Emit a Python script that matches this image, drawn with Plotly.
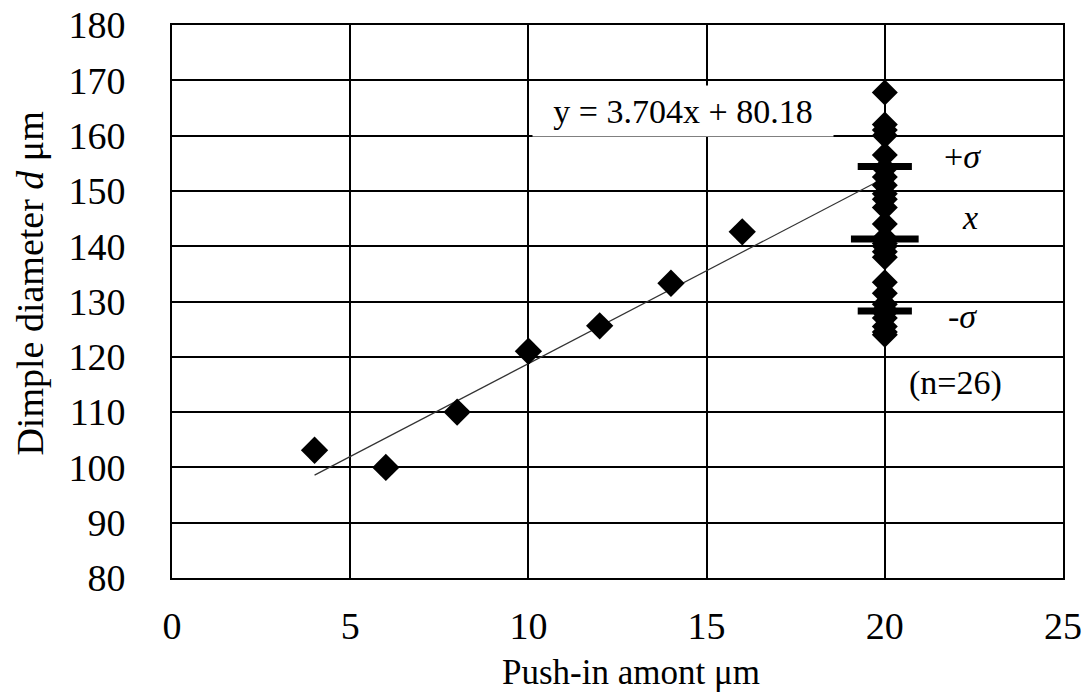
import plotly.graph_objects as go

# Data
push_in = [4, 6, 8, 10, 12, 14, 16]
diameter = [103.1, 100.0, 110.0, 121.0, 125.6, 133.3, 142.6]

cluster_x_value = 20
cluster_d = [167.8, 162, 161, 160, 156.5, 154, 152.5, 151, 149.5, 148.5, 147, 144,
             141.5, 140.5, 140, 139, 138, 133.5, 131.5, 129.5, 128.5, 128, 127,
             125.5, 124.5, 124]

mean_d = 141.3
plus_sigma = 154.4
minus_sigma = 128.3

trend_x = [4.0, 19.8]
trend_y = [98.6, 151.7]

x_ticks = [0, 5, 10, 15, 20, 25]
y_ticks = [80, 90, 100, 110, 120, 130, 140, 150, 160, 170, 180]

FONT = "Liberation Serif"

fig = go.Figure()

fig.add_trace(go.Scatter(x=trend_x, y=trend_y, mode="lines",
                         line=dict(color="#333333", width=1.2), showlegend=False))

fig.add_trace(go.Scatter(x=push_in, y=diameter, mode="markers",
                         marker=dict(symbol="diamond", size=21, color="black"),
                         showlegend=False))

fig.add_trace(go.Scatter(x=[cluster_x_value] * len(cluster_d), y=cluster_d, mode="markers",
                         marker=dict(symbol="diamond", size=20, color="black"),
                         showlegend=False))

# mean and sigma bars
mean_half = 0.95
sig_half = 0.76
for val, half in [(mean_d, mean_half), (plus_sigma, sig_half), (minus_sigma, sig_half)]:
    fig.add_trace(go.Scatter(x=[cluster_x_value - half, cluster_x_value + half], y=[val, val],
                             mode="lines", line=dict(color="black", width=7),
                             showlegend=False))

ann_font = dict(family=FONT, size=34, color="black")
fig.add_annotation(x=14.35, y=164.5, text="y = 3.704x + 80.18", showarrow=False,
                   font=dict(family=FONT, size=34, color="black"),
                   bgcolor="white", borderpad=2, width=296, height=46,
                   xanchor="center", yanchor="middle")
fig.add_annotation(x=22.19, y=156.3, text="+<i>σ</i>", showarrow=False, font=ann_font)
fig.add_annotation(x=22.39, y=145.2, text="<i>x</i>", showarrow=False, font=ann_font)
fig.add_annotation(x=22.17, y=127.2, text="-<i>σ</i>", showarrow=False, font=ann_font)
fig.add_annotation(x=21.97, y=115.3, text="(n=26)", showarrow=False, font=ann_font)

# axis titles
fig.add_annotation(xref="paper", yref="paper", x=0.515, y=-0.17, text="Push-in amont μm",
                   showarrow=False, font=dict(family=FONT, size=35, color="black"),
                   xanchor="center", yanchor="middle")
fig.add_annotation(xref="paper", yref="paper", x=-0.159, y=0.533,
                   text="Dimple diameter <i>d</i> μm", textangle=-90,
                   showarrow=False, font=dict(family=FONT, size=38, color="black"),
                   xanchor="center", yanchor="middle")

fig.update_layout(
    width=1085, height=699,
    margin=dict(l=172, r=22, t=25, b=121, autoexpand=False),
    paper_bgcolor="white", plot_bgcolor="white",
    font=dict(family=FONT, size=38, color="black"),
    xaxis=dict(range=[0, 25], tickvals=x_ticks, showgrid=True, gridcolor="black", gridwidth=2,
               zeroline=False, showline=True, linecolor="black", linewidth=2, mirror=True,
               ticks="", ticklen=0, tickfont=dict(family=FONT, size=38),
               ticklabelstandoff=13, automargin=False),
    yaxis=dict(range=[80, 180], tickvals=y_ticks, showgrid=True, gridcolor="black", gridwidth=2,
               zeroline=False, showline=True, linecolor="black", linewidth=2, mirror=True,
               ticks="", ticklen=0, tickfont=dict(family=FONT, size=38),
               ticklabelstandoff=37, automargin=False),
)

fig.write_html("out.html")
